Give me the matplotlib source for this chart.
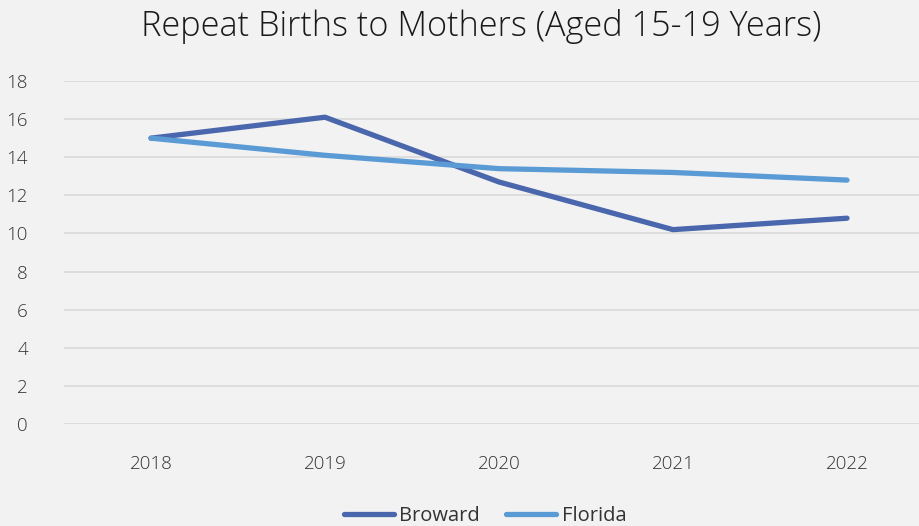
import matplotlib
matplotlib.use("Agg")
import matplotlib.pyplot as plt

years = ["2018", "2019", "2020", "2021", "2022"]
broward = [15.0, 16.1, 12.7, 10.2, 10.8]
florida = [15.0, 14.1, 13.4, 13.2, 12.8]
yticks = [0, 2, 4, 6, 8, 10, 12, 14, 16, 18]

plt.rcParams['font.family'] = ['Open Sans', 'DejaVu Sans']

W, H = 920, 526
fig = plt.figure(figsize=(W/100, H/100), dpi=100, facecolor='#F2F2F2')
ax = fig.add_axes([64/W, (H-424)/H, 870/W, (424-81)/H])
ax.set_facecolor('#F2F2F2')

x = list(range(len(years)))
ax.plot(x, broward, color='#4A66AC', lw=3.8, solid_capstyle='round', solid_joinstyle='round', label='Broward', zorder=3)
ax.plot(x, florida, color='#5B9BD5', lw=3.8, solid_capstyle='round', solid_joinstyle='round', label='Florida', zorder=3)

ax.set_xlim(-0.5, 4.5)
ax.set_ylim(0, 18)
ax.set_yticks(yticks)
ax.set_yticklabels([str(v) for v in yticks], fontsize=13.5, color='#333333', fontweight='light')
ax.set_xticks(x)
ax.set_xticklabels(years, fontsize=13.5, color='#333333', fontweight='light')
ax.tick_params(axis='both', length=0)
ax.tick_params(axis='x', pad=22)
ax.tick_params(axis='y', pad=26)
ax.grid(axis='y', color='#D9D9D9', lw=1.2)
ax.set_axisbelow(True)
for s in ax.spines.values():
    s.set_visible(False)

fig.text(481/W, 1-27/H, "Repeat Births to Mothers (Aged 15-19 Years)", ha='center', va='center',
         fontsize=24.7, color='#1a1a1a', fontweight='light')

leg = fig.legend(loc='center', bbox_to_anchor=(485/W, 1-516/H), ncol=2, frameon=False,
                 fontsize=14.5, handlelength=2.5, handletextpad=0.25, columnspacing=1.3)
for t in leg.get_texts():
    t.set_color('#333333')

fig.savefig('out.png', dpi=100, facecolor='#F2F2F2')
